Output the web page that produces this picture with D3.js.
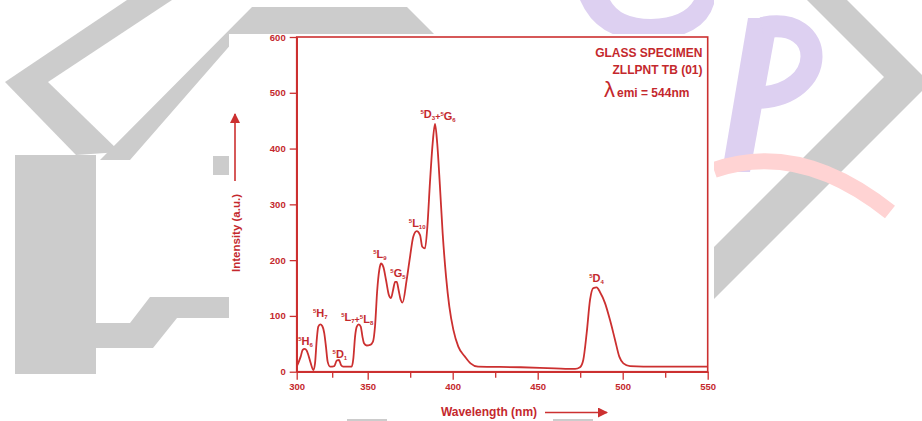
<!DOCTYPE html>
<html>
<head>
<meta charset="utf-8">
<script src="https://cdn.jsdelivr.net/npm/d3@7"></script>
<style>
  html, body { margin: 0; padding: 0; background: #fff; }
  svg { display: block; }
  text { font-family: "Liberation Sans", Arial, sans-serif; }
</style>
</head>
<body>
<svg id="chart" width="922" height="421"></svg>
<script>
// Tb3+ excitation spectrum (emission monitored at 544 nm)
const wavelength = [300, 302.8, 304.2, 305.6, 307.0, 308.2, 309.9, 311.7,
  312.9, 314.1, 315.2, 316.6, 318.0, 319.4, 320.6, 321.8, 323.5,
  326.5, 328.2, 329.8, 331.2, 332.8, 338.7,
  339.9, 341.1, 342.3, 343.7, 345.1, 346.3, 347.4, 349.3, 351.4, 353.1,
  354.3, 355.6, 356.8, 357.8, 359.2, 360.8, 362.4, 363.7, 364.9, 366.1,
  367.1, 368.2, 369.4, 370.5, 372.9, 374.9, 376.8, 378.8, 380.8, 382.1,
  383.7, 385.1, 386.6, 388.2, 389.6, 390.9, 392.5, 394.1, 396.1, 398.0,
  400.4, 403.3, 407.2, 410.5, 414.9, 440, 460, 472, 474.9, 476.8,
  478.8, 480.8, 482.7, 484.7, 486.6, 489.6, 492.5, 495.5, 498.0, 500.4,
  504.3, 520, 550];
const intensity = [9, 27, 39, 41, 38, 30, 15, 3,
  15, 57, 81, 85, 82, 69, 45, 18, 9,
  10, 20, 21, 12, 9, 9,
  24, 63, 81, 85, 81, 63, 51, 47, 48, 54,
  81, 146, 182, 194, 188, 164, 138, 132, 146, 161,
  161, 146, 129, 124, 164, 206, 242, 252, 245, 224,
  221, 260, 338, 409, 444, 409, 332, 248, 170, 117,
  75, 45, 27, 15, 9, 8, 6, 5, 8, 21,
  69, 129, 150, 151, 143, 123, 93, 57, 27, 15,
  10, 9, 9];

const xMajorTicks = [300, 350, 400, 450, 500, 550];
const xMinorTicks = [325, 375, 425, 475, 525];
const yTicks = [0, 100, 200, 300, 400, 500, 600];

// Transition labels: terms [superscript, letter, subscript], anchored in data units
const labelTerms = [
  [["5", "H", "6"]],
  [["5", "H", "7"]],
  [["5", "D", "1"]],
  [["5", "L", "7"], ["5", "L", "8"]],
  [["5", "L", "9"]],
  [["5", "G", "5"]],
  [["5", "L", "10"]],
  [["5", "D", "3"], ["5", "G", "6"]],
  [["5", "D", "4"]]
];
const labelWavelength = [306.2, 316.6, 330.4, 342.6, 357.2, 367.8, 379.1, 391.4, 484.6];
const labelIntensity = [48, 98, 25, 90, 203, 170, 260, 454, 161];

const infoLines = ["GLASS SPECIMEN", "ZLLPNT TB (01)"];
const emissionText = "emi = 544nm";

const RED = "#c4282d";
const LINE = "#cc3030";

const svg = d3.select("#chart");

// ---- background emblem ----
const bg = svg.append("g");
const grey = "#cccccc", lilac = "#ddd0f1", pink = "#ffd3d3";
[
  "M127,0 L172,0 L48,82 L5,82 Z",
  "M5,82 L48,82 L120,152 L76,155 Z",
  "M15,155 L96,155 L96,374 L15,374 Z",
  "M96,323 L130,323 L150,297 L229,297 L229,318 L177,318 L153,348 L96,348 Z",
  "M100,160 L252,7 L407,7 L434,34 L240,34 L130,160 Z",
  "M213,156 L229,156 L229,175 L213,175 Z",
  "M807,0 L847,0 L930,83 L680,333 L628,333 L884,77 Z",
  "M347,419 L387,419 L387,421 L347,421 Z",
  "M553,419 L593,419 L593,421 L553,421 Z"
].forEach(d => bg.append("path").attr("d", d).attr("fill", grey));

bg.append("path")
  .attr("d", "M580,0 Q598,42 650,40 Q704,38 714,4 L714,0 L694,0 Q684,18 651,19 Q620,19 610,0 Z")
  .attr("fill", lilac);
bg.append("path")
  .attr("d", "M748,18 L778,18 L750,172 L722,172 Z")
  .attr("fill", lilac);
bg.append("path")
  .attr("d", "M762,28 C828,14 830,96 756,98")
  .attr("fill", "none").attr("stroke", lilac).attr("stroke-width", 22);
bg.append("path")
  .attr("d", "M714,170 Q800,140 890,212")
  .attr("fill", "none").attr("stroke", pink).attr("stroke-width", 16);

// white sheet behind the plot
bg.append("rect").attr("x", 229).attr("y", 34).attr("width", 485).attr("height", 384).attr("fill", "#fff");

// ---- scales ----
// the printed wavelength axis is compressed between 300 and 350 nm
const x = d3.scaleLinear().domain([300, 350, 550]).range([296.7, 367.7, 707.7]);
const y = d3.scaleLinear().domain([0, 600]).range([371.7, 37]);

const plot = svg.append("g");

// frame
plot.append("rect")
  .attr("x", x(300)).attr("y", y(600))
  .attr("width", x(550) - x(300)).attr("height", y(0) - y(600))
  .attr("fill", "none").attr("stroke", LINE).attr("stroke-width", 1.6);

// axes
const xAxis = plot.append("g").attr("transform", `translate(0,${y(0)})`)
  .call(d3.axisBottom(x).tickValues(xMajorTicks).tickSize(8).tickSizeOuter(0).tickPadding(4));
const xMinor = plot.append("g").attr("transform", `translate(0,${y(0)})`)
  .call(d3.axisBottom(x).tickValues(xMinorTicks).tickSize(6).tickSizeOuter(0).tickFormat(""));
const yAxis = plot.append("g").attr("transform", `translate(${x(300)},0)`)
  .call(d3.axisLeft(y).tickValues(yTicks).tickSize(7).tickSizeOuter(0).tickPadding(4));

[xAxis, xMinor, yAxis].forEach(g => {
  g.select(".domain").attr("stroke", LINE).attr("stroke-width", 1.6);
  g.selectAll(".tick line").attr("stroke", LINE).attr("stroke-width", 1.3);
  g.selectAll(".tick text")
    .attr("fill", RED).attr("font-size", 9.5).attr("font-weight", "bold")
    .attr("font-family", "'Liberation Sans', Arial, sans-serif");
});

// spectrum
const pts = wavelength.map((w, i) => [w, intensity[i]]);
plot.append("path")
  .datum(pts)
  .attr("fill", "none")
  .attr("stroke", LINE)
  .attr("stroke-width", 1.8)
  .attr("stroke-linejoin", "round")
  .attr("d", d3.line().x(d => x(d[0])).y(d => y(d[1])).curve(d3.curveMonotoneX));

// transition labels
labelTerms.forEach((terms, i) => {
  const t = plot.append("text")
    .attr("x", x(labelWavelength[i]))
    .attr("y", y(labelIntensity[i]))
    .attr("text-anchor", "middle")
    .attr("fill", RED)
    .attr("font-weight", "bold");
  terms.forEach((term, k) => {
    if (k > 0) t.append("tspan").attr("font-size", 9).text("+");
    t.append("tspan").attr("font-size", 6).attr("dy", -4).text(term[0]);
    t.append("tspan").attr("font-size", 11).attr("dy", 4).text(term[1]);
    t.append("tspan").attr("font-size", 6).attr("dy", 2).text(term[2]);
    t.append("tspan").attr("font-size", 6).attr("dy", -2).text("");
  });
});

// specimen info
infoLines.forEach((s, i) => {
  plot.append("text")
    .attr("x", 702.5).attr("y", 57 + i * 16.5)
    .attr("text-anchor", "end")
    .attr("fill", RED).attr("font-size", 12).attr("font-weight", "bold")
    .text(s);
});
plot.append("text")
  .attr("x", 604).attr("y", 97)
  .attr("fill", RED).attr("font-size", 22)
  .attr("font-family", "'Liberation Serif', 'Times New Roman', serif")
  .text("λ");
plot.append("text")
  .attr("x", 617).attr("y", 97)
  .attr("fill", RED).attr("font-size", 12).attr("font-weight", "bold")
  .text(emissionText);

// axis titles with arrows
const defs = svg.append("defs");
defs.append("marker")
  .attr("id", "arrow").attr("viewBox", "0 0 10 10")
  .attr("refX", 9).attr("refY", 5)
  .attr("markerWidth", 10).attr("markerHeight", 10)
  .attr("markerUnits", "userSpaceOnUse")
  .attr("orient", "auto")
  .append("path").attr("d", "M0,0 L10,5 L0,10 Z").attr("fill", LINE);

plot.append("text")
  .attr("transform", "translate(240,233) rotate(-90)")
  .attr("text-anchor", "middle")
  .attr("fill", RED).attr("font-size", 11.5).attr("font-weight", "bold")
  .text("Intensity (a.u.)");
plot.append("line")
  .attr("x1", 235).attr("y1", 181).attr("x2", 235).attr("y2", 114)
  .attr("stroke", LINE).attr("stroke-width", 1.6).attr("marker-end", "url(#arrow)");

plot.append("text")
  .attr("x", 489).attr("y", 416)
  .attr("text-anchor", "middle")
  .attr("fill", RED).attr("font-size", 12).attr("font-weight", "bold")
  .text("Wavelength (nm)");
plot.append("line")
  .attr("x1", 545).attr("y1", 412.5).attr("x2", 607).attr("y2", 412.5)
  .attr("stroke", LINE).attr("stroke-width", 1.6).attr("marker-end", "url(#arrow)");
</script>
</body>
</html>
